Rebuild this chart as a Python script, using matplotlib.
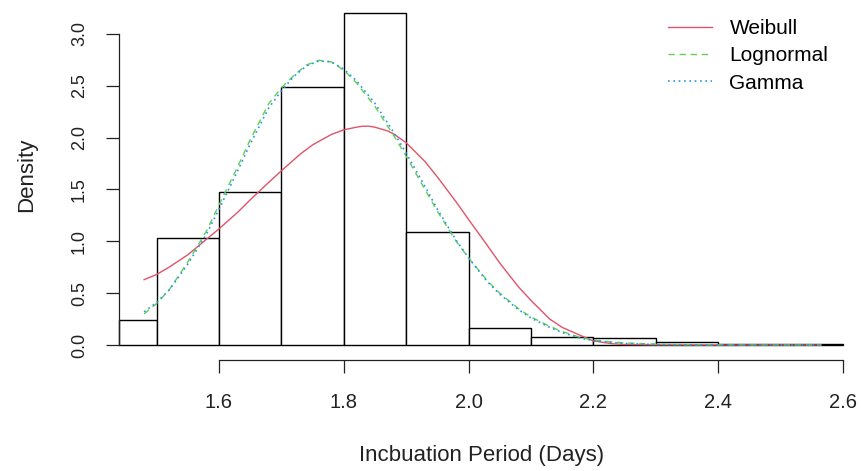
import numpy as np
import matplotlib
matplotlib.use('Agg')
import matplotlib.pyplot as plt

# histogram of incubation period (density scale)
bin_edges = [1.44, 1.5, 1.6, 1.7, 1.8, 1.9, 2.0, 2.1, 2.2, 2.3, 2.4, 2.5, 2.6]
hist_density = [0.241, 1.03, 1.478, 2.487, 3.205, 1.087, 0.161, 0.078, 0.064, 0.032, 0.007, 0.006]

# fitted densities
weibull_x = [1.48, 1.50, 1.52, 1.55, 1.58, 1.60, 1.63, 1.65, 1.68, 1.70, 1.73, 1.75, 1.78, 1.80,
             1.82, 1.83, 1.84, 1.85, 1.87, 1.88, 1.90, 1.93, 1.95, 1.98, 2.00, 2.03, 2.05, 2.08,
             2.10, 2.13, 2.15, 2.18, 2.20, 2.23, 2.25, 2.30, 2.40, 2.50, 2.565]
weibull_y = [0.63, 0.68, 0.75, 0.87, 1.02, 1.12, 1.28, 1.40, 1.57, 1.68, 1.84, 1.93, 2.03, 2.075,
             2.10, 2.11, 2.11, 2.10, 2.065, 2.035, 1.95, 1.77, 1.62, 1.38, 1.21, 0.96, 0.79, 0.56,
             0.43, 0.25, 0.17, 0.09, 0.04, 0.012, 0.005, 0.001, 0.0, 0.0, 0.0]

lognormal_x = [1.48, 1.50, 1.52, 1.55, 1.58, 1.60, 1.63, 1.65, 1.68, 1.70, 1.72, 1.74, 1.76, 1.78,
               1.80, 1.82, 1.85, 1.88, 1.90, 1.93, 1.95, 1.98, 2.00, 2.03, 2.05, 2.08, 2.10, 2.13,
               2.15, 2.18, 2.20, 2.23, 2.25, 2.30, 2.35, 2.40, 2.50, 2.565]
lognormal_y = [0.30, 0.40, 0.53, 0.80, 1.10, 1.35, 1.72, 1.98, 2.33, 2.48, 2.60, 2.70, 2.745, 2.73,
               2.65, 2.53, 2.30, 2.02, 1.82, 1.50, 1.29, 1.00, 0.84, 0.62, 0.50, 0.35, 0.27, 0.18,
               0.13, 0.07, 0.048, 0.03, 0.02, 0.008, 0.003, 0.001, 0.0, 0.0]

gamma_x = lognormal_x
gamma_y = [0.32, 0.41, 0.53, 0.78, 1.07, 1.31, 1.68, 1.94, 2.29, 2.45, 2.59, 2.69, 2.74, 2.73,
           2.66, 2.55, 2.33, 2.05, 1.85, 1.53, 1.31, 1.01, 0.84, 0.61, 0.49, 0.34, 0.26, 0.17,
           0.12, 0.065, 0.044, 0.024, 0.015, 0.005, 0.0015, 0.0005, 0.0, 0.0]

x_ticks = [1.6, 1.8, 2.0, 2.2, 2.4, 2.6]
y_ticks = [0.0, 0.5, 1.0, 1.5, 2.0, 2.5, 3.0]

plt.rcParams['font.family'] = ['Liberation Sans', 'DejaVu Sans']

W, H = 862, 471
fig = plt.figure(figsize=(W / 100, H / 100), dpi=100)


def px_x(p):
    return 1.6 + (p - 219) / 624.0


def px_y(p):
    return (345 - p) / 103.7


left, right, top, bottom = 110, 850, 3, 366
ax = fig.add_axes([left / W, (H - bottom) / H, (right - left) / W, (bottom - top) / H])
ax.set_xlim(px_x(left), px_x(right))
ax.set_ylim(px_y(bottom), px_y(top))
ax.patch.set_alpha(0)

ax.bar(bin_edges[:-1], hist_density, width=np.diff(bin_edges), align='edge',
       facecolor='white', edgecolor='black', linewidth=1.0, zorder=1)

ax.plot(weibull_x, weibull_y, color='#DF536B', lw=1.0, label='Weibull', zorder=3)
ax.plot(lognormal_x, lognormal_y, color='#61D04F', lw=1.0, ls=(0, (4.5, 3.5)), label='Lognormal', zorder=3)
ax.plot(gamma_x, gamma_y, color='#2297E6', lw=1.2, ls=(0, (1, 2.2)), label='Gamma', zorder=3)

for s in ['top', 'right']:
    ax.spines[s].set_visible(False)
ax.spines['left'].set_position(('data', bin_edges[0]))
ax.spines['left'].set_bounds(0, 3)
ax.spines['bottom'].set_position(('data', px_y(360)))
ax.spines['bottom'].set_bounds(1.6, 2.6)
for s in ['left', 'bottom']:
    ax.spines[s].set_linewidth(0.9)
    ax.spines[s].set_color('#222222')

ax.set_xticks(x_ticks)
ax.set_xticklabels([f'{v:.1f}' for v in x_ticks], fontsize=14.5, color='#222222')
ax.set_yticks(y_ticks)
ax.set_yticklabels([f'{v:.1f}' for v in y_ticks], fontsize=13, color='#222222',
                   rotation=90, va='center')
ax.tick_params(length=9.4, width=0.9, color='#222222', direction='out')
ax.tick_params(axis='x', pad=14)
ax.tick_params(axis='y', pad=13)

ax.set_xlabel('Incbuation Period (Days)', fontsize=16, color='#222222')
ax.set_ylabel('Density', fontsize=16, color='#222222')
ax.xaxis.set_label_coords((482 - left) / (right - left), (bottom - 456) / (bottom - top))
ax.yaxis.set_label_coords((27 - left) / (right - left), (bottom - 175) / (bottom - top))
ax.xaxis.label.set_va('center')
ax.yaxis.label.set_va('center')

ax.legend(loc='upper left', bbox_to_anchor=(668 / W, 1 - 19 / H), bbox_transform=fig.transFigure,
          frameon=False, fontsize=15, handlelength=2.1, handletextpad=0.85,
          labelspacing=0.4, borderpad=0, borderaxespad=0)

plt.savefig('out.png', dpi=100)
